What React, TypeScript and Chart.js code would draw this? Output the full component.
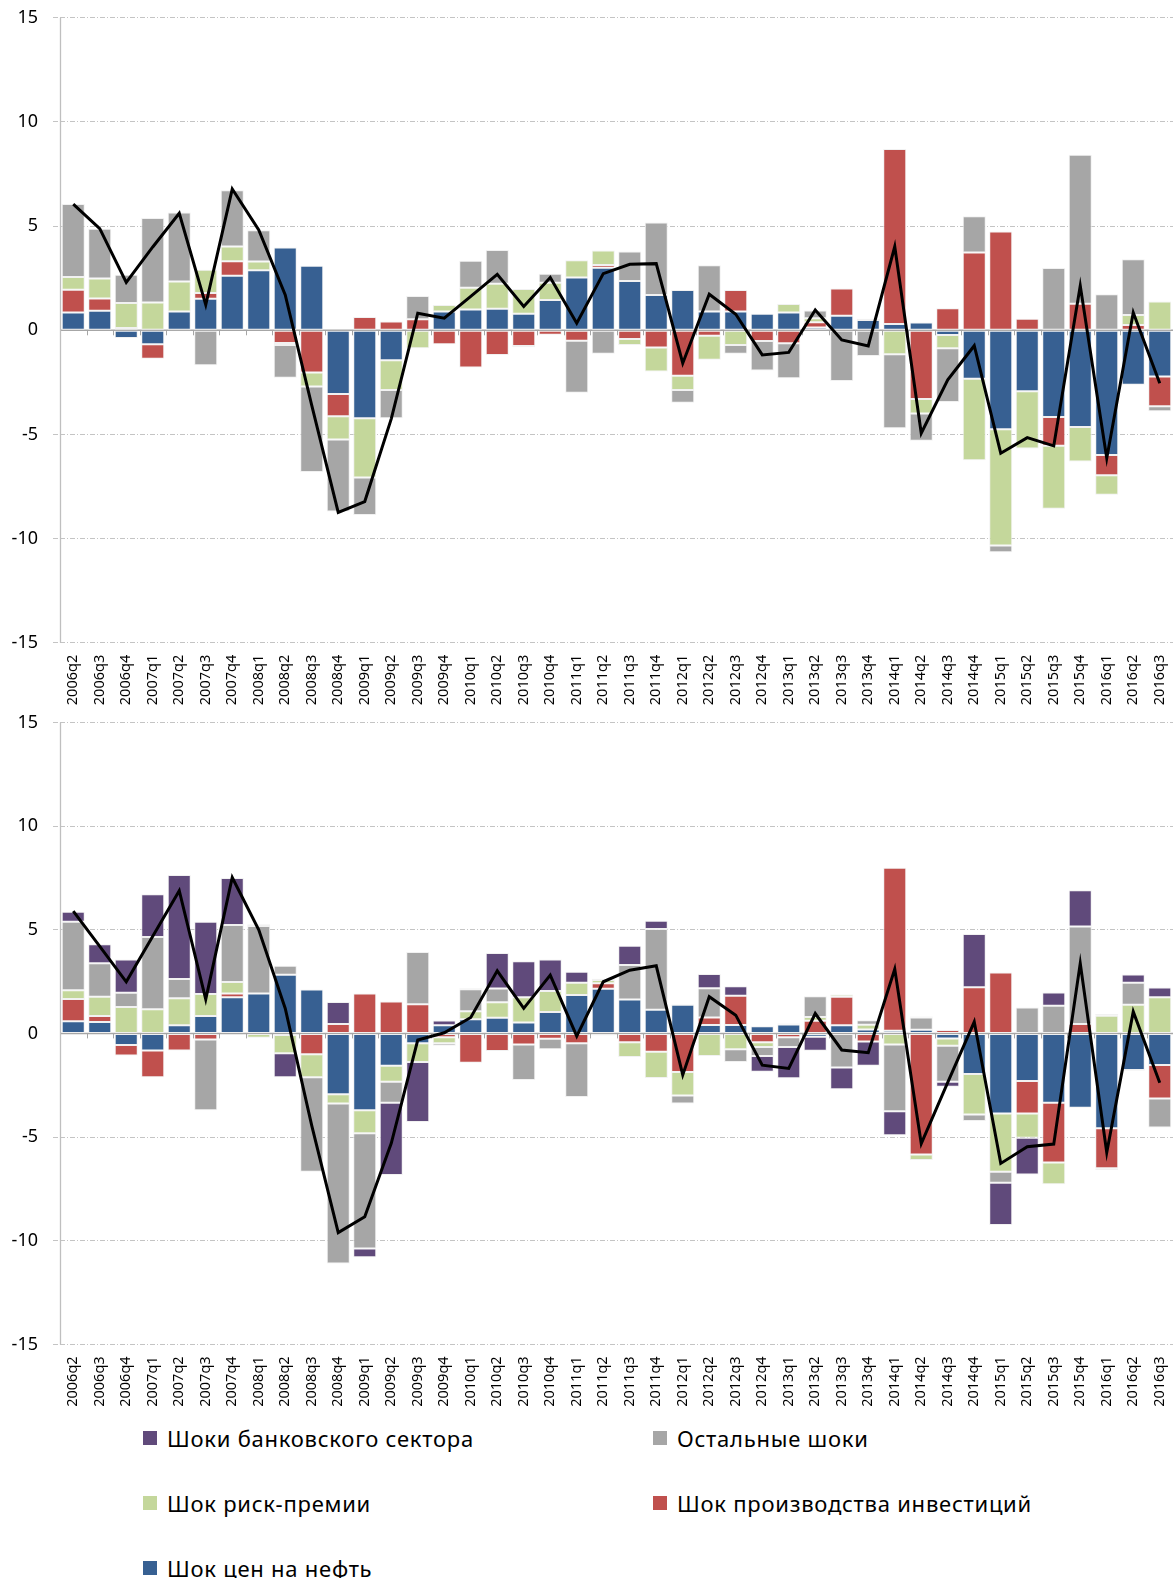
import React, { useEffect, useRef } from 'react';
import { Chart, registerables } from 'chart.js';

Chart.register(...registerables);

const categories = [
  '2006q2', '2006q3', '2006q4', '2007q1', '2007q2', '2007q3', '2007q4', '2008q1', '2008q2', '2008q3',
  '2008q4', '2009q1', '2009q2', '2009q3', '2009q4', '2010q1', '2010q2', '2010q3', '2010q4', '2011q1',
  '2011q2', '2011q3', '2011q4', '2012q1', '2012q2', '2012q3', '2012q4', '2013q1', '2013q2', '2013q3',
  '2013q4', '2014q1', '2014q2', '2014q3', '2014q4', '2015q1', '2015q2', '2015q3', '2015q4', '2016q1',
  '2016q2', '2016q3',
];

const yTicks = [-15, -10, -5, 0, 5, 10, 15];

// Top panel
const oilA = [0.86, 0.94, -0.37, -0.67, 0.9, 1.52, 2.62, 2.88, 3.97, 3.1, -3.06, -4.22, -1.44, 0, 0.9, 1.0, 1.04, 0.8, 1.46, 2.53, 3.0, 2.37, 1.7, 1.94, 0.9, 0.9, 0.8, 0.86, 0.13, 0.7, 0.5, 0.3, 0.37, -0.22, -2.32, -4.75, -2.93, -4.16, -4.64, -5.98, -2.61, -2.22];
const invA = [1.09, 0.59, 0.11, -0.7, -0.05, 0.27, 0.7, 0, -0.61, -2.03, -1.06, 0.64, 0.42, 0.53, -0.67, -1.78, -1.18, -0.75, -0.21, -0.5, 0.13, -0.42, -0.83, -2.18, -0.26, 1.04, -0.51, -0.62, 0.26, 1.31, 0, 8.4, -3.3, 1.06, 3.74, 4.74, 0.56, -1.38, 1.28, -0.98, 0.26, -1.42];
const riskA = [0.61, 0.96, 1.2, 1.34, 1.44, 1.12, 0.7, 0.42, -0.1, -0.67, -1.12, -2.85, -1.42, -0.86, 0.32, 1.04, 1.2, 1.18, 0.82, 0.83, 0.7, -0.29, -1.15, -0.69, -1.15, -0.7, 0, 0.4, 0.19, 0, 0.05, -1.15, -0.69, -0.64, -3.92, -5.58, -2.74, -3.02, -1.66, -0.93, 0.48, 1.38];
const otherA = [3.5, 2.38, 1.36, 4.05, 3.31, -1.68, 2.7, 1.5, -1.57, -4.1, -3.46, -1.79, -1.36, 1.12, 0, 1.3, 1.62, -0.06, 0.43, -2.5, -1.12, 1.41, 3.47, -0.61, 2.22, -0.42, -1.42, -1.68, 0.37, -2.43, -1.23, -3.55, -1.31, -2.58, 1.73, -0.32, 0, 2.99, 7.15, 1.73, 2.67, -0.24];
const lineA = [6.06, 4.88, 2.3, 4.0, 5.62, 1.22, 6.78, 4.82, 1.7, -3.6, -8.74, -8.22, -4.25, 0.82, 0.58, 1.63, 2.69, 1.14, 2.53, 0.34, 2.72, 3.17, 3.2, -1.58, 1.73, 0.77, -1.18, -1.06, 0.98, -0.46, -0.75, 4.02, -4.94, -2.38, -0.74, -5.9, -5.15, -5.55, 2.14, -6.14, 0.85, -2.54];

// Bottom panel
const oilB = [0.58, 0.55, -0.56, -0.82, 0.39, 0.84, 1.74, 1.93, 2.83, 2.12, -2.93, -3.71, -1.56, -0.48, 0.39, 0.68, 0.76, 0.53, 1.03, 1.85, 2.15, 1.64, 1.14, 1.38, 0.4, 0.4, 0.35, 0.43, -0.16, 0.39, 0.19, 0.13, 0.18, -0.24, -1.96, -3.86, -2.3, -3.34, -3.59, -4.58, -1.77, -1.53];
const invB = [1.08, 0.29, -0.51, -1.3, -0.82, -0.29, 0.19, 0, -0.08, -1.01, 0.45, 1.93, 1.54, 1.41, -0.19, -1.41, -0.85, -0.53, -0.26, -0.48, 0.27, -0.43, -0.88, -1.86, 0.37, 1.41, -0.43, -0.18, 0.61, 1.38, -0.39, 7.86, -5.84, 0.16, 2.22, 2.94, -1.56, -2.89, 0.45, -1.93, -0.03, -1.61];
const riskB = [0.42, 0.93, 1.27, 1.16, 1.3, 1.06, 0.55, -0.21, -0.88, -1.11, -0.45, -1.11, -0.77, -0.9, -0.29, 0.39, 0.74, 1.21, 1.01, 0.59, 0.16, -0.71, -1.27, -1.13, -1.09, -0.77, -0.23, 0.05, 0.18, 0.11, 0.23, -0.53, -0.27, -0.35, -1.95, -2.81, -1.17, -1.05, 0, 0.85, 1.38, 1.74];
const otherB = [3.31, 1.61, 0.69, 3.49, 0.93, -3.42, 2.75, 3.25, 0.43, -4.55, -7.72, -5.55, -1.01, 2.52, -0.11, 1.06, 0.66, -1.72, -0.51, -2.59, -0.1, 1.66, 3.89, -0.39, 1.41, -0.61, -0.43, -0.48, 1.0, -1.64, 0.21, -3.22, 0.59, -1.74, -0.31, -0.53, 1.25, 1.33, 4.71, -0.08, 1.06, -1.4];
const bankB = [0.48, 0.92, 1.61, 2.06, 5.02, 3.49, 2.27, 0.08, -1.16, 0, 1.06, -0.43, -3.49, -2.89, 0.23, 0.05, 1.72, 1.74, 1.53, 0.53, 0.05, 0.93, 0.4, 0.03, 0.69, 0.47, -0.76, -1.5, -0.68, -1.05, -1.17, -1.16, 0.05, -0.24, 2.57, -2.04, -1.77, 0.64, 1.75, 0.08, 0.4, 0.47];
const lineB = [5.9, 4.2, 2.49, 4.69, 6.88, 1.64, 7.52, 5.0, 1.2, -4.45, -9.61, -8.84, -5.3, -0.32, 0.03, 0.77, 3.02, 1.21, 2.81, -0.13, 2.49, 3.05, 3.26, -2.0, 1.77, 0.88, -1.53, -1.69, 0.96, -0.8, -0.93, 3.1, -5.31, -2.36, 0.56, -6.27, -5.47, -5.34, 3.38, -5.74, 1.05, -2.38];

const LBL_BANK = 'Шоки банковского сектора';
const LBL_OTHER = 'Остальные шоки';
const LBL_RISK = 'Шок риск-премии';
const LBL_INV = 'Шок производства инвестиций';
const LBL_OIL = 'Шок цен на нефть';

const C_OIL = '#376092';
const C_INV = '#C0504D';
const C_RISK = '#C4D79B';
const C_OTHER = '#A6A6A6';
const C_BANK = '#604A7B';

const FONT = "'Noto Sans', 'DejaVu Sans', sans-serif";

const axisPlugin = {
  id: 'axisLines',
  beforeDatasetsDraw(chart: any) {
    const { ctx, chartArea, scales } = chart;
    const xs = scales.x;
    const y0 = scales.y.getPixelForValue(0);
    const n = chart.data.labels.length;
    ctx.save();
    ctx.strokeStyle = '#A6A6A6';
    ctx.lineWidth = 1.5;
    ctx.beginPath();
    ctx.moveTo(chartArea.left, y0);
    ctx.lineTo(chartArea.right, y0);
    ctx.stroke();
    ctx.lineWidth = 1;
    ctx.beginPath();
    for (let i = 1; i < n; i++) {
      const x = Math.round((xs.getPixelForValue(i - 1) + xs.getPixelForValue(i)) / 2) + 0.5;
      ctx.moveTo(x, y0);
      ctx.lineTo(x, y0 + 5);
    }
    ctx.stroke();
    ctx.strokeStyle = '#BFBFBF';
    ctx.lineWidth = 1.3;
    ctx.beginPath();
    ctx.moveTo(chartArea.left + 0.5, chartArea.top);
    ctx.lineTo(chartArea.left + 0.5, chartArea.bottom);
    ctx.stroke();
    ctx.restore();
  },
};

type Series = { label: string; data: number[]; color: string };

function buildChart(canvas: HTMLCanvasElement, series: Series[], line: number[], padTop: number, xHeight: number) {
  const datasets: any[] = series.map((s) => ({
    type: 'bar',
    label: s.label,
    data: s.data,
    backgroundColor: s.color,
    borderColor: 'rgba(240,240,240,0.9)',
    borderWidth: 1,
    borderSkipped: false,
    barPercentage: 0.87,
    categoryPercentage: 1,
    stack: 'shocks',
    order: 1,
  }));
  datasets.push({
    type: 'line',
    label: 'line',
    data: line,
    borderColor: '#000000',
    borderWidth: 3,
    pointRadius: 0,
    tension: 0,
    borderJoinStyle: 'miter',
    fill: false,
    stack: 'line',
    order: 0,
  });
  return new Chart(canvas, {
    type: 'bar',
    data: { labels: categories, datasets },
    plugins: [axisPlugin],
    options: {
      animation: false,
      responsive: false,
      maintainAspectRatio: false,
      events: [],
      layout: { padding: { top: padTop, right: 0, left: 0, bottom: 0 } },
      plugins: { legend: { display: false }, tooltip: { enabled: false } },
      scales: {
        x: {
          stacked: true,
          grid: { display: false, drawTicks: false },
          border: { display: false },
          ticks: {
            autoSkip: false,
            minRotation: 90,
            maxRotation: 90,
            padding: 12,
            color: '#000',
            font: { family: FONT, size: 14.5 },
          },
          afterFit: (scale: any) => {
            scale.height = xHeight;
            scale.paddingLeft = 0;
            scale.paddingRight = 0;
          },
        },
        y: {
          stacked: true,
          min: Math.min(...yTicks),
          max: Math.max(...yTicks),
          afterBuildTicks: (scale: any) => {
            scale.ticks = yTicks.map((v) => ({ value: v }));
          },
          grid: {
            color: (c: any) => (c.tick && c.tick.value === 0 ? 'rgba(0,0,0,0)' : '#C4C4C4'),
            tickColor: (c: any) => (c.tick && c.tick.value === 0 ? 'rgba(0,0,0,0)' : '#C4C4C4'),
            lineWidth: 1,
            tickLength: 7,
            tickBorderDash: [5, 2, 1, 2],
          },
          border: { display: false, dash: [5, 2, 1, 2] },
          ticks: {
            padding: 15,
            color: '#000',
            font: { family: FONT, size: 18 },
          },
          afterFit: (scale: any) => {
            scale.width = 60;
            scale.paddingTop = 10;
            scale.paddingBottom = 10;
          },
        },
      },
    } as any,
  });
}

function Panel({ series, line, padTop, xHeight, top }: { series: Series[]; line: number[]; padTop: number; xHeight: number; top: number }) {
  const ref = useRef<HTMLCanvasElement | null>(null);
  useEffect(() => {
    if (!ref.current) return;
    const ch = buildChart(ref.current, series, line, padTop, xHeight);
    return () => ch.destroy();
  }, []);
  return (
    <canvas
      ref={ref}
      width={1173}
      height={712}
      style={{ position: 'absolute', left: 0, top, width: 1173, height: 712, display: 'block' }}
    />
  );
}

const legendItems = [
  { label: LBL_BANK, color: C_BANK, left: 143, top: 1427 },
  { label: LBL_OTHER, color: C_OTHER, left: 653, top: 1427 },
  { label: LBL_RISK, color: C_RISK, left: 143, top: 1492 },
  { label: LBL_INV, color: C_INV, left: 653, top: 1492 },
  { label: LBL_OIL, color: C_OIL, left: 143, top: 1557 },
];

export default function App() {
  const seriesA: Series[] = [
    { label: LBL_OIL, data: oilA, color: C_OIL },
    { label: LBL_INV, data: invA, color: C_INV },
    { label: LBL_RISK, data: riskA, color: C_RISK },
    { label: LBL_OTHER, data: otherA, color: C_OTHER },
  ];
  const seriesB: Series[] = [
    { label: LBL_OIL, data: oilB, color: C_OIL },
    { label: LBL_INV, data: invB, color: C_INV },
    { label: LBL_RISK, data: riskB, color: C_RISK },
    { label: LBL_OTHER, data: otherB, color: C_OTHER },
    { label: LBL_BANK, data: bankB, color: C_BANK },
  ];
  return (
    <div style={{ position: 'absolute', left: 0, top: 0, width: 1173, height: 1578, overflow: 'hidden', background: '#fff' }}>
      <Panel series={seriesA} line={lineA} padTop={17.8} xHeight={69.2} top={0} />
      <Panel series={seriesB} line={lineB} padTop={22.4} xHeight={67.6} top={700} />
      {legendItems.map((it) => (
        <div
          key={it.label}
          style={{
            position: 'absolute',
            left: it.left,
            top: it.top,
            height: 22,
            display: 'flex',
            alignItems: 'center',
            fontFamily: FONT,
            fontSize: 22,
            lineHeight: '22px',
            letterSpacing: '0.75px',
            color: '#000',
            whiteSpace: 'nowrap',
          }}
        >
          <span style={{ display: 'inline-block', width: 14, height: 14, background: it.color, marginRight: 10 }} />
          <span>{it.label}</span>
        </div>
      ))}
    </div>
  );
}
